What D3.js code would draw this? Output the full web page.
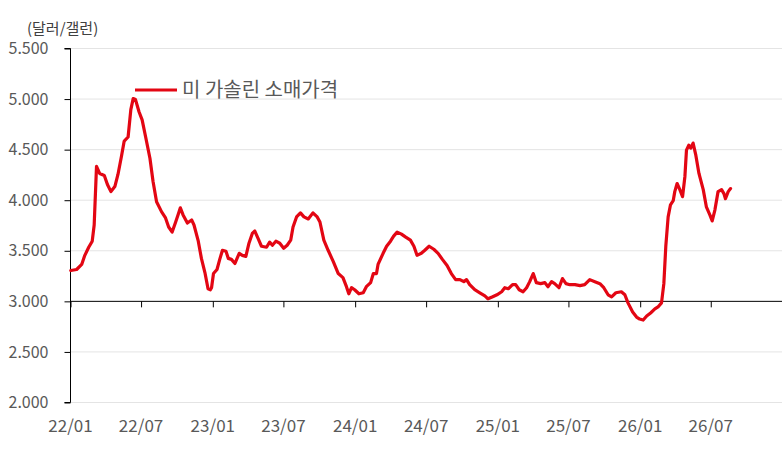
<!DOCTYPE html>
<html>
<head>
<meta charset="utf-8">
<script src="https://cdn.jsdelivr.net/npm/d3@7/dist/d3.min.js"></script>
<style>
  html, body { margin: 0; padding: 0; background: #fff; }
  svg text { font-family: "Noto Sans CJK KR", "Noto Sans", sans-serif; }
</style>
</head>
<body>
<div id="chart"></div>
<script>
// 미 가솔린 소매가격 (달러/갤런)
const dates = [
  '2022-01-03','2022-01-18','2022-01-31','2022-02-08','2022-02-18','2022-02-27','2022-03-04','2022-03-10',
  '2022-03-18','2022-03-30','2022-04-07','2022-04-16','2022-04-26','2022-05-04','2022-05-13','2022-05-20',
  '2022-05-30','2022-06-06','2022-06-12','2022-06-18','2022-06-27','2022-07-05','2022-07-14','2022-07-25',
  '2022-08-02','2022-08-11','2022-08-24','2022-09-03','2022-09-11','2022-09-20','2022-09-29','2022-10-05',
  '2022-10-11','2022-10-18','2022-10-29','2022-11-09','2022-11-15','2022-11-26','2022-12-04','2022-12-13',
  '2022-12-21','2022-12-27','2022-12-30','2023-01-04','2023-01-13','2023-01-20','2023-01-27','2023-02-05',
  '2023-02-11','2023-02-19','2023-02-28','2023-03-11','2023-03-19','2023-03-28','2023-04-05','2023-04-14',
  '2023-04-20','2023-04-28','2023-05-07','2023-05-20','2023-05-28','2023-06-04','2023-06-13','2023-06-23',
  '2023-07-03','2023-07-12','2023-07-21','2023-07-27','2023-08-05','2023-08-15','2023-08-24','2023-09-04',
  '2023-09-16','2023-09-27','2023-10-04','2023-10-14','2023-10-25','2023-11-07','2023-11-20','2023-12-02',
  '2023-12-11','2023-12-17','2023-12-24','2024-01-01','2024-01-12','2024-01-23','2024-01-31','2024-02-11',
  '2024-02-18','2024-02-26','2024-03-01','2024-03-14','2024-03-23','2024-04-02','2024-04-10','2024-04-19',
  '2024-04-30','2024-05-11','2024-05-23','2024-06-01','2024-06-09','2024-06-20','2024-06-29','2024-07-10',
  '2024-07-22','2024-08-02','2024-08-13','2024-08-25','2024-09-05','2024-09-16','2024-09-27','2024-10-07',
  '2024-10-14','2024-10-22','2024-11-04','2024-11-17','2024-11-30','2024-12-08','2024-12-20','2024-12-31',
  '2025-01-12','2025-01-20','2025-01-29','2025-02-09','2025-02-17','2025-02-26','2025-03-08','2025-03-17',
  '2025-03-25','2025-04-03','2025-04-11','2025-04-22','2025-05-03','2025-05-11','2025-05-20','2025-05-28',
  '2025-06-08','2025-06-17','2025-06-26','2025-07-06','2025-07-19','2025-08-01','2025-08-13','2025-08-26',
  '2025-09-08','2025-09-21','2025-10-01','2025-10-12','2025-10-21','2025-11-01','2025-11-15','2025-11-24',
  '2025-12-02','2025-12-14','2025-12-24','2026-01-01','2026-01-10','2026-01-19','2026-01-29','2026-02-09',
  '2026-02-17','2026-02-26','2026-03-04','2026-03-09','2026-03-15','2026-03-21','2026-03-28','2026-04-01',
  '2026-04-07','2026-04-14','2026-04-21','2026-04-27','2026-05-01','2026-05-07','2026-05-12','2026-05-18',
  '2026-05-25','2026-06-02','2026-06-13','2026-06-21','2026-06-30','2026-07-06','2026-07-13','2026-07-21',
  '2026-07-30','2026-08-05','2026-08-09','2026-08-16','2026-08-22'
];
const prices = [
  3.30, 3.31, 3.36, 3.45, 3.53, 3.59, 3.75, 4.33,
  4.26, 4.24, 4.15, 4.08, 4.13, 4.25, 4.43, 4.58,
  4.62, 4.89, 5.00, 4.99, 4.87, 4.79, 4.62, 4.41,
  4.18, 3.98, 3.88, 3.82, 3.73, 3.68, 3.78, 3.85,
  3.92, 3.85, 3.77, 3.80, 3.75, 3.59, 3.42, 3.28,
  3.12, 3.11, 3.13, 3.27, 3.31, 3.41, 3.50, 3.49,
  3.42, 3.41, 3.37, 3.47, 3.45, 3.44, 3.57, 3.67,
  3.69, 3.62, 3.54, 3.53, 3.58, 3.55, 3.59, 3.57,
  3.52, 3.55, 3.60, 3.73, 3.83, 3.87, 3.83, 3.81,
  3.87, 3.83, 3.78, 3.60, 3.50, 3.39, 3.27, 3.23,
  3.14, 3.07, 3.13, 3.11, 3.07, 3.08, 3.14, 3.18,
  3.27, 3.27, 3.36, 3.47, 3.54, 3.59, 3.64, 3.68,
  3.66, 3.63, 3.60, 3.54, 3.45, 3.47, 3.50, 3.54,
  3.51, 3.47, 3.41, 3.35, 3.27, 3.21, 3.21, 3.19,
  3.21, 3.16, 3.11, 3.08, 3.05, 3.02, 3.04, 3.06,
  3.09, 3.13, 3.12, 3.16, 3.16, 3.11, 3.09, 3.13,
  3.19, 3.27, 3.18, 3.17, 3.18, 3.14, 3.19, 3.17,
  3.13, 3.22, 3.17, 3.16, 3.16, 3.15, 3.16, 3.21,
  3.19, 3.17, 3.13, 3.06, 3.04, 3.08, 3.09, 3.06,
  2.98, 2.89, 2.84, 2.82, 2.81, 2.85, 2.88, 2.92,
  2.94, 2.98, 3.17, 3.54, 3.83, 3.95, 3.99, 4.08,
  4.16, 4.10, 4.03, 4.23, 4.49, 4.54, 4.51, 4.56,
  4.44, 4.26, 4.10, 3.93, 3.85, 3.79, 3.90, 4.08,
  4.10, 4.06, 4.01, 4.08, 4.11
];
const xTicks = ['2022-01-01','2022-07-01','2023-01-01','2023-07-01','2024-01-01',
                '2024-07-01','2025-01-01','2025-07-01','2026-01-01','2026-07-01'];
const yTicks = [2.0, 2.5, 3.0, 3.5, 4.0, 4.5, 5.0, 5.5];
const unitLabel = '(달러/갤런)';
const seriesName = '미 가솔린 소매가격';

!(function () {
  'use strict'
  const W = 782, H = 450;
  const plot = { left: 70, right: 782, top: 48, bottom: 402 };
  const red = '#e30613', grey = '#595959';
  const parse = d3.timeParse('%Y-%m-%d');

  const data = dates.map(function (d, i) {
    return { date: parse(d), value: prices[i] };
  });

  const svg = d3.select('#chart')
    .append('svg')
    .attr('width', W)
    .attr('height', H);

  const x = d3.scaleTime()
    .domain([parse('2022-01-01'), parse('2027-01-01')])
    .range([plot.left, plot.right]);

  const y = d3.scaleLinear()
    .domain([2.0, 5.5])
    .range([plot.bottom, plot.top]);

  // horizontal gridlines
  svg.append('g')
    .selectAll('line')
    .data(yTicks.filter(function (v) { return v !== 3.0; }))
    .enter()
    .append('line')
    .attr('x1', plot.left)
    .attr('x2', plot.right)
    .attr('y1', function (d) { return y(d) + 0.5; })
    .attr('y2', function (d) { return y(d) + 0.5; })
    .attr('stroke', '#e4e4e4')
    .attr('stroke-width', 1);

  // y axis
  const yAxis = svg.append('g')
    .attr('transform', 'translate(' + (plot.left + 0.5) + ',0.5)')
    .call(d3.axisLeft(y)
      .tickValues(yTicks)
      .tickSize(6)
      .tickPadding(16)
      .tickFormat(d3.format('.3f')));
  yAxis.select('.domain').attr('stroke', '#000').attr('d', 'M-6,' + y(2.0) + 'H0V' + y(5.5) + 'H-6');
  yAxis.selectAll('.tick line').attr('stroke', '#000');
  yAxis.selectAll('text')
    .attr('fill', grey)
    .style('font-size', '16px');

  // x axis crossing at 3.000 (ticks only)
  const xAxis = svg.append('g')
    .attr('transform', 'translate(0.5,' + (y(3.0) + 0.5) + ')')
    .call(d3.axisBottom(x)
      .tickValues(xTicks.map(parse))
      .tickSize(6)
      .tickFormat(''));
  xAxis.select('.domain').attr('stroke', '#000').attr('d', 'M' + plot.left + ',0H' + plot.right);
  xAxis.selectAll('.tick line').attr('stroke', '#000');

  // x labels along the bottom
  const xLabels = svg.append('g')
    .attr('transform', 'translate(0,' + plot.bottom + ')')
    .call(d3.axisBottom(x)
      .tickValues(xTicks.map(parse))
      .tickSize(0)
      .tickPadding(18)
      .tickFormat(d3.timeFormat('%y/%m')));
  xLabels.select('.domain').remove();
  xLabels.selectAll('text')
    .attr('fill', grey)
    .style('font-size', '17px');

  // price line
  const line = d3.line()
    .x(function (d) { return x(d.date); })
    .y(function (d) { return y(d.value); })
    .curve(d3.curveLinear);

  svg.append('path')
    .datum(data)
    .attr('d', line)
    .attr('fill', 'none')
    .attr('stroke', red)
    .attr('stroke-width', 3.2)
    .attr('stroke-linejoin', 'round')
    .attr('stroke-linecap', 'round');

  // unit label
  svg.append('text')
    .attr('x', 27)
    .attr('y', 34)
    .attr('fill', '#404040')
    .style('font-size', '15px')
    .text(unitLabel);

  // legend
  svg.append('line')
    .attr('x1', 135)
    .attr('x2', 177)
    .attr('y1', 90)
    .attr('y2', 90)
    .attr('stroke', red)
    .attr('stroke-width', 3);

  svg.append('text')
    .attr('x', 182)
    .attr('y', 97)
    .attr('fill', grey)
    .style('font-size', '20px')
    .text(seriesName);
}())
</script>
</body>
</html>
